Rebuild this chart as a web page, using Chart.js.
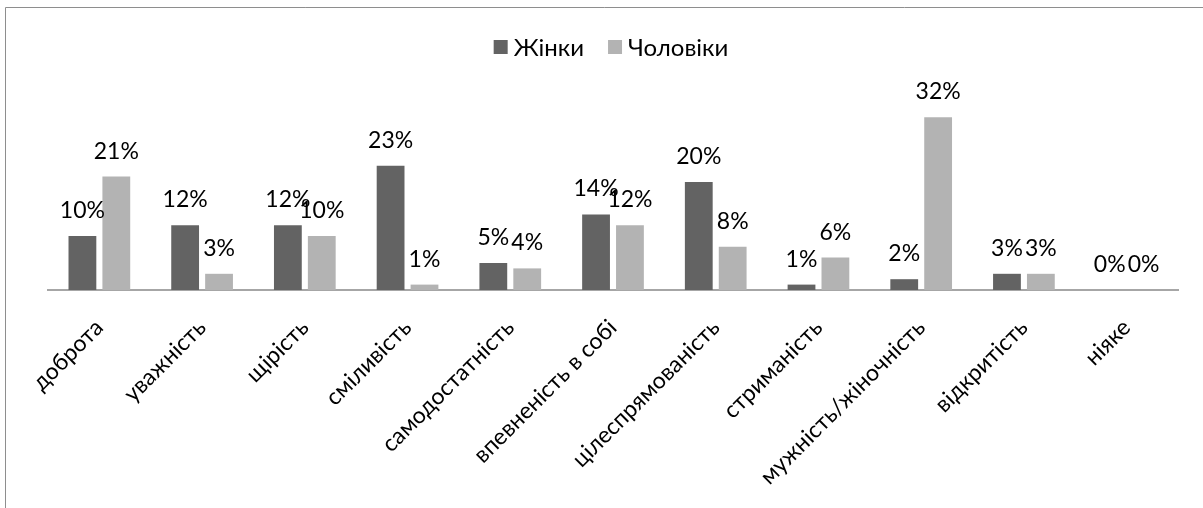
<!DOCTYPE html>
<html>
<head>
<meta charset="utf-8">
<script src="https://cdn.jsdelivr.net/npm/chart.js@4/dist/chart.umd.min.js"></script>
<style>
  html, body { margin: 0; padding: 0; background: #fff; overflow: hidden; }
  #wrap { width: 1203px; height: 508px; position: relative; }
</style>
</head>
<body>
<div id="wrap"><canvas id="canvas" width="1203" height="508"></canvas></div>
<script>
const categories = ["доброта", "уважність", "щірість", "сміливість", "самодостатність",
  "впевненість в собі", "цілеспрямованість", "стриманість", "мужність/жіночність",
  "відкритість", "ніяке"];
const women = [10, 12, 12, 23, 5, 14, 20, 1, 2, 3, 0];
const men = [21, 3, 10, 1, 4, 12, 8, 6, 32, 3, 0];

const FONT = "Lato, 'Open Sans', sans-serif";

// outer frame like the excel chart border
const framePlugin = {
  id: 'frame',
  beforeDraw(chart) {
    const c = chart.ctx;
    c.save();
    c.fillStyle = '#fff';
    c.fillRect(0, 0, chart.width, chart.height);
    c.strokeStyle = '#8e8e8e';
    c.lineWidth = 1;
    c.beginPath();
    c.moveTo(5.5, chart.height + 5);
    c.lineTo(5.5, 7.5);
    c.lineTo(chart.width + 5, 7.5);
    c.stroke();
    c.restore();
  }
};

// percent labels over each bar
const valueLabels = {
  id: 'valueLabels',
  afterDatasetsDraw(chart) {
    const c = chart.ctx;
    c.save();
    c.font = '23px ' + FONT;
    c.fillStyle = '#000';
    c.textAlign = 'center';
    c.textBaseline = 'alphabetic';
    chart.data.datasets.forEach((ds, i) => {
      chart.getDatasetMeta(i).data.forEach((bar, j) => {
        c.fillText(ds.data[j] + '%', bar.x, bar.y - 18);
      });
    });
    c.restore();
  }
};

// legend drawn by hand: small squares close to the text, like excel
const smallLegend = {
  id: 'smallLegend',
  afterDraw(chart) {
    const c = chart.ctx;
    c.save();
    c.font = '24px ' + FONT;
    c.textBaseline = 'middle';
    c.textAlign = 'left';
    const box = 14, gapText = 6, gapItem = 24, cy = 47;
    const items = chart.data.datasets.map(d => ({ text: d.label, color: d.backgroundColor }));
    let total = 0;
    items.forEach((it, k) => {
      it.w = c.measureText(it.text).width;
      total += box + gapText + it.w + (k ? gapItem : 0);
    });
    let x = 611 - total / 2;
    items.forEach(it => {
      c.fillStyle = it.color;
      c.fillRect(x, cy - box / 2, box, box);
      c.fillStyle = '#000';
      c.fillText(it.text, x + box + gapText, cy + 1);
      x += box + gapText + it.w + gapItem;
    });
    c.restore();
  }
};

let ctx = document.getElementById('canvas').getContext('2d');
let chart = new Chart(ctx, {
  type: 'bar',
  data: {
    labels: categories,
    datasets: [{
      label: 'Жінки',
      data: women,
      backgroundColor: '#636363',
      categoryPercentage: 0.66,
      barPercentage: 0.82
    }, {
      label: 'Чоловіки',
      data: men,
      backgroundColor: '#b3b3b3',
      categoryPercentage: 0.66,
      barPercentage: 0.82
    }]
  },
  options: {
    responsive: false,
    animation: false,
    layout: { padding: { left: 48, right: 25, top: 101, bottom: 0 } },
    plugins: {
      legend: { display: false },
      tooltip: { enabled: false }
    },
    scales: {
      x: {
        grid: { display: false, drawTicks: false },
        border: { color: '#a6a6a6', width: 2 },
        ticks: {
          color: '#000',
          font: { family: FONT, size: 23 },
          minRotation: 45,
          maxRotation: 45,
          autoSkip: false,
          padding: 24
        },
        afterFit(scale) { scale.height = 218; }
      },
      y: {
        display: false,
        min: 0,
        max: 35
      }
    }
  },
  plugins: [framePlugin, valueLabels, smallLegend]
});
</script>
</body>
</html>
